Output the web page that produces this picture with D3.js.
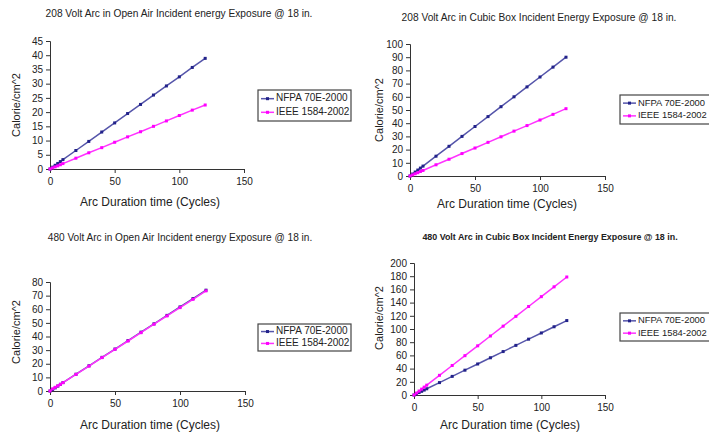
<!DOCTYPE html>
<html>
<head>
<meta charset="utf-8">
<script src="https://cdn.jsdelivr.net/npm/d3@7"></script>
<style>
  body { margin: 0; background: #fff; }
  svg { font-family: "Liberation Sans", Arial, sans-serif; }
  .axis path, .axis line { stroke: #333; }
  .axis text { font-size: 10px; fill: #222; }
</style>
</head>
<body>
<div id="chart"></div>
<script>
const cycles = [0, 2, 4, 6, 8, 10, 20, 30, 40, 50, 60, 70, 80, 90, 100, 110, 120];
const seriesNames = ["NFPA 70E-2000", "IEEE 1584-2002"];
const xTicks = [0, 50, 100, 150];

// 208 V open air
const nfpa208Open = [0, 0.65, 1.3, 1.95, 2.6, 3.3, 6.5, 9.7, 13.0, 16.2, 19.5, 22.7, 26.0, 29.2, 32.4, 35.7, 38.9];
const ieee208Open = [0, 0.4, 0.75, 1.1, 1.5, 1.9, 3.8, 5.7, 7.5, 9.4, 11.3, 13.1, 15.0, 16.9, 18.8, 20.7, 22.5];
// 208 V cubic box
const nfpa208Box = [0, 1.5, 3.0, 4.5, 6.0, 7.5, 15.0, 22.5, 30.0, 37.5, 45.0, 52.5, 60.0, 67.5, 75.0, 82.5, 90.0];
const ieee208Box = [0, 0.85, 1.7, 2.5, 3.4, 4.2, 8.5, 12.7, 17.0, 21.2, 25.5, 29.7, 34.0, 38.2, 42.4, 46.7, 51.0];
// 480 V open air
const nfpa480Open = [0, 1.0, 2.3, 3.6, 4.9, 6.2, 12.3, 18.5, 24.7, 30.8, 37.0, 43.2, 49.3, 55.5, 61.7, 67.8, 74.0];
const ieee480Open = [0, 1.6, 2.7, 3.8, 4.9, 6.1, 12.2, 18.3, 24.5, 30.6, 36.7, 42.8, 49.0, 55.1, 61.2, 67.3, 73.5];
// 480 V cubic box
const nfpa480Box = [0, 1.9, 3.8, 5.6, 7.5, 9.4, 18.8, 28.2, 37.6, 47.0, 56.4, 65.8, 75.2, 84.6, 94.0, 103.4, 112.8];
const ieee480Box = [0, 3.0, 6.0, 8.9, 11.9, 14.9, 29.8, 44.7, 59.6, 74.5, 89.4, 104.3, 119.2, 134.1, 149.0, 163.9, 178.8];

const colors = ["#22228a", "#ff00ff"];
const lineColors = ["#5555aa", "#ff33ff"];

const panels = [
  { title: "208 Volt Arc in Open Air Incident energy Exposure @ 18 in.", data: [nfpa208Open, ieee208Open],
    yMax: 45, yStep: 5, left: 50, right: 244, top: 41, bottom: 169,
    titleX: 179, titleY: 14, xTitleX: 150, xTitleY: 203, yTitleX: 17, yTitleY: 105,
    leg: { x: 258, y: 90, w: 93, h: 31, font: 10 }, weight: "normal", titleSize: 10.2 },
  { title: "208 Volt Arc in Cubic Box Incident Energy Exposure @ 18 in.", data: [nfpa208Box, ieee208Box],
    yMax: 100, yStep: 10, left: 410, right: 605, top: 44, bottom: 176,
    titleX: 539, titleY: 18, xTitleX: 507, xTitleY: 205, yTitleX: 380, yTitleY: 110,
    leg: { x: 620, y: 95, w: 100, h: 29, font: 9.4 }, weight: "normal", titleSize: 10.2 },
  { title: "480 Volt Arc in Open Air Incident energy Exposure @ 18 in.", data: [nfpa480Open, ieee480Open],
    yMax: 80, yStep: 10, left: 50, right: 245, top: 282, bottom: 391,
    titleX: 180, titleY: 238, xTitleX: 150, xTitleY: 426, yTitleX: 17, yTitleY: 332,
    leg: { x: 258, y: 324, w: 93, h: 27, font: 10 }, weight: "normal", titleSize: 10.1 },
  { title: "480 Volt Arc in Cubic  Box Incident Energy Exposure @ 18 in.", data: [nfpa480Box, ieee480Box],
    yMax: 200, yStep: 20, left: 414, right: 605, top: 263, bottom: 395,
    titleX: 550, titleY: 238, xTitleX: 510, xTitleY: 426, yTitleX: 380, yTitleY: 318,
    leg: { x: 620, y: 313, w: 100, h: 28, font: 9.4 }, weight: "bold", titleSize: 8.9 }
];

const svg = d3.select("#chart").append("svg")
  .attr("width", 709)
  .attr("height", 433);

panels.forEach((p, pi) => {
  const x = d3.scaleLinear().domain([0, 150]).range([p.left, p.right]);
  const y = d3.scaleLinear().domain([0, p.yMax]).range([p.bottom, p.top]);
  const g = svg.append("g");

  g.append("text")
    .attr("x", p.titleX).attr("y", p.titleY)
    .attr("text-anchor", "middle").attr("dominant-baseline", "middle")
    .style("font-size", p.titleSize + "px")
    .style("font-weight", p.weight)
    .style("fill", "#222")
    .text(p.title);

  g.append("g").attr("class", "axis")
    .attr("transform", `translate(0,${p.bottom})`)
    .call(d3.axisBottom(x).tickValues(xTicks).tickSize(4).tickPadding(5));

  g.append("g").attr("class", "axis")
    .attr("transform", `translate(${p.left},0)`)
    .call(d3.axisLeft(y).tickValues(d3.range(0, p.yMax + 0.001, p.yStep)).tickSize(4).tickPadding(3));

  g.append("text")
    .attr("x", p.xTitleX).attr("y", p.xTitleY)
    .attr("text-anchor", "middle").attr("dominant-baseline", "middle")
    .style("font-size", "12px").style("fill", "#222")
    .text("Arc Duration time (Cycles)");

  g.append("text")
    .attr("transform", `translate(${p.yTitleX},${p.yTitleY}) rotate(-90)`)
    .attr("text-anchor", "middle").attr("dominant-baseline", "middle")
    .style("font-size", "11px").style("fill", "#222")
    .text("Calorie/cm^2");

  const line = d3.line()
    .x((d, i) => x(cycles[i]))
    .y(d => y(d));

  p.data.forEach((vals, si) => {
    g.append("path")
      .datum(vals)
      .attr("fill", "none")
      .attr("stroke", lineColors[si])
      .attr("stroke-width", 1.5)
      .attr("d", line);
    g.selectAll(null)
      .data(vals)
      .enter()
      .append("rect")
      .attr("x", (d, i) => x(cycles[i]) - 1.5)
      .attr("y", d => y(d) - 1.5)
      .attr("width", 3).attr("height", 3)
      .attr("fill", colors[si]);
  });

  // legend, clipped to its box like the original
  const clipId = "legclip" + pi;
  svg.append("clipPath").attr("id", clipId)
    .append("rect").attr("x", p.leg.x - 1).attr("y", p.leg.y - 1)
    .attr("width", p.leg.w + 2).attr("height", p.leg.h + 2);
  const lg = g.append("g").attr("clip-path", `url(#${clipId})`);
  lg.append("rect")
    .attr("x", p.leg.x).attr("y", p.leg.y)
    .attr("width", p.leg.w).attr("height", p.leg.h)
    .attr("fill", "#fff").attr("stroke", "#444").attr("stroke-width", 1.2);
  seriesNames.forEach((name, si) => {
    const ly = p.leg.y + p.leg.h * (si === 0 ? 0.28 : 0.72);
    lg.append("line")
      .attr("x1", p.leg.x + 3).attr("x2", p.leg.x + 16)
      .attr("y1", ly).attr("y2", ly)
      .attr("stroke", lineColors[si]).attr("stroke-width", 1.5);
    lg.append("rect")
      .attr("x", p.leg.x + 8).attr("y", ly - 1.5)
      .attr("width", 3).attr("height", 3)
      .attr("fill", colors[si]);
    lg.append("text")
      .attr("x", p.leg.x + 18).attr("y", ly)
      .attr("dominant-baseline", "middle")
      .style("font-size", p.leg.font + "px").style("fill", "#222")
      .text(name);
  });
});
</script>
</body>
</html>
